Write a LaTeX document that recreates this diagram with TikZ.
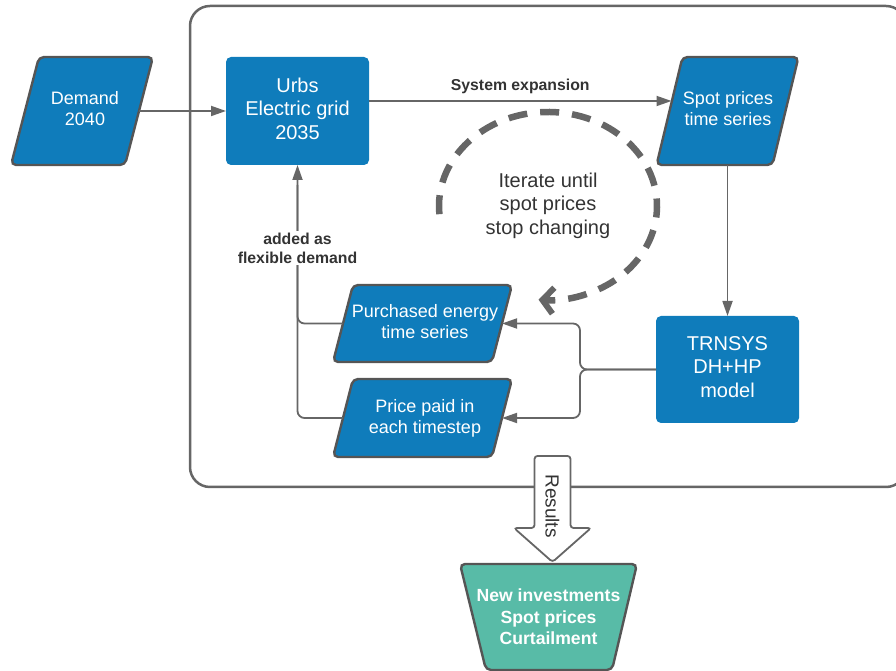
\documentclass[tikz,border=0pt]{standalone}
\usepackage{fontspec}
\setmainfont{Liberation Sans}
\usetikzlibrary{arrows.meta}
\definecolor{boxblue}{HTML}{0F7CBB}
\definecolor{outteal}{HTML}{58BBA7}
\definecolor{edgegray}{HTML}{555555}
\definecolor{linegray}{HTML}{666666}
\definecolor{txtdark}{HTML}{333333}
\tikzset{
  holder/.style={inner sep=0pt, outer sep=0pt, text=white, align=center},
  procbox/.style={holder, fill=boxblue, rounded corners=5pt},
  parashape/.style={fill=boxblue, draw=edgegray, line width=2.4pt, rounded corners=5pt},
  bigtext/.style={font=\fontsize{20}{23.5}\selectfont},
  midtext/.style={font=\fontsize{18}{21}\selectfont},
  flow/.style={draw=linegray, line width=1.8pt, -{Triangle[length=15pt,width=10pt]}},
  plainflow/.style={draw=linegray, line width=1.8pt},
  edgelabel/.style={font=\bfseries\fontsize{15.8}{19}\selectfont, text=txtdark, align=center},
}
\newcommand\paradraw[2]{%
  \draw[parashape] ([xshift=#2]#1.north west) -- (#1.north east)
    -- ([xshift=-#2]#1.south east) -- (#1.south west) -- cycle;}
\begin{document}
\begin{tikzpicture}[x=1pt,y=1pt]
\useasboundingbox (0,0) rectangle (896,671);

% frame around the iteration loop
\draw[draw=linegray, line width=2.5pt, rounded corners=20pt] (190,665) rectangle (906,184);

% holders for the slanted boxes
\node[holder, minimum width=142pt, minimum height=108pt] (dem) at (82,560) {};
\node[holder, minimum width=142pt, minimum height=108pt] (spot) at (727.5,560) {};
\node[holder, minimum width=179pt, minimum height=77pt] (pur) at (422.5,347.5) {};
\node[holder, minimum width=179pt, minimum height=78pt] (pri) at (422.5,253) {};
\paradraw{dem}{28pt}
\paradraw{spot}{26pt}
\paradraw{pur}{20pt}
\paradraw{pri}{20pt}
\node[holder, midtext] (demtxt) at (85,562) {Demand\\2040};
\node[holder, midtext] (spottxt) at (728,562) {Spot prices\\time series};
\node[holder, midtext] (purtxt) at (425,349.5) {Purchased energy\\time series};
\node[holder, midtext] (pritxt) at (425,253) {Price paid in\\each timestep};

% model boxes
\node[procbox, minimum width=143pt, minimum height=108pt] (urbs) at (297.5,560) {};
\node[holder, bigtext] (urbstxt) at (297.5,562.5) {Urbs\\Electric grid\\2035};
\node[procbox, minimum width=143pt, minimum height=107pt] (trn) at (727.5,301.5) {};
\node[holder, bigtext] (trntxt) at (727.5,304) {TRNSYS\\DH+HP\\model};

% connectors
\draw[flow] ([xshift=-14pt]dem.east) -- (urbs.west);
\draw[flow] ([yshift=10pt]urbs.east) -- ([xshift=15pt,yshift=10pt]spot.west)
  node[midway, above=3pt, edgelabel] {System expansion};
\draw[flow] (spot.south) -- (trn.north);
\draw[flow, rounded corners=7pt] (trn.west) -- ++(-76pt,0) |- ([xshift=-10pt]pur.east);
\draw[flow, rounded corners=7pt] (trn.west) -- ++(-76pt,0) |- ([xshift=-10pt]pri.east);
\draw[plainflow, rounded corners=7pt] ([xshift=10pt]pri.west) -| ([yshift=-20pt]urbs.south);
\draw[flow, rounded corners=7pt] ([xshift=10pt]pur.west) -| (urbs.south);
\node[edgelabel, fill=white, inner sep=2pt] (flexlbl) at (297.5,423) {added as\\flexible demand};

% iteration loop
\draw[draw=linegray, line width=6.5pt, dash pattern=on 19pt off 13pt,
      -{Straight Barb[length=11pt,width=26pt,line width=6pt]}]
  (548,465) ++(185:109pt and 94pt)
  arc[start angle=185, end angle=-95, x radius=109pt, y radius=94pt];
\node[text=txtdark, align=center, bigtext] (iter) at (548,465.5) {Iterate until\\spot prices\\stop changing};

% results block arrow
\draw[fill=white, draw=linegray, line width=1.8pt, rounded corners=3pt]
  (534.5,143) -- (534.5,215) -- (570.5,215) -- (570.5,143) -- (591,143)
  -- (552.5,109) -- (514,143) -- cycle;
\node[rotate=-90, text=txtdark, font=\fontsize{19}{22}\selectfont] (res) at (552.5,165) {Results};

% outcome box
\draw[fill=outteal, draw=edgegray, line width=2.4pt, rounded corners=5pt]
  (460,107) -- (637,107) -- (612,1) -- (486,1) -- cycle;
\node[holder, font=\bfseries\fontsize{17.6}{21.5}\selectfont] (out) at (548.5,54) {New investments\\Spot prices\\Curtailment};
\end{tikzpicture}
\end{document}
